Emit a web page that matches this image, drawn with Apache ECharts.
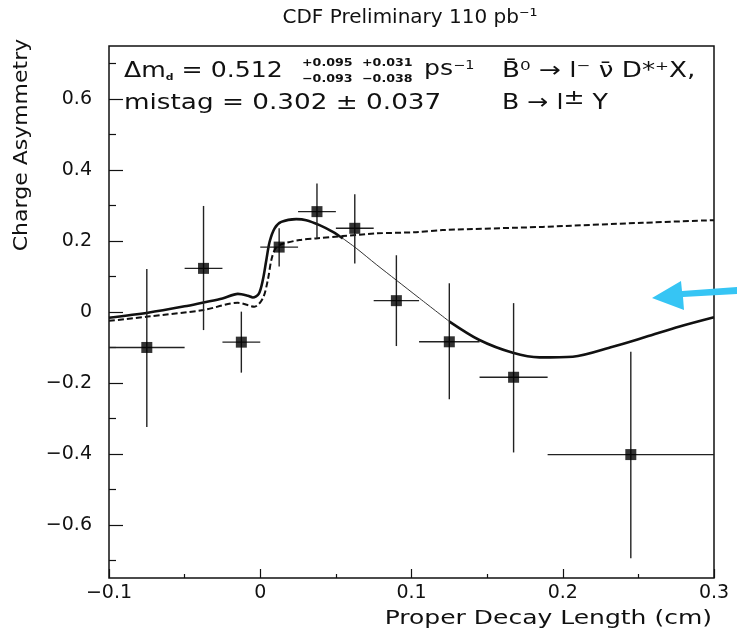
<!DOCTYPE html>
<html lang="en">
<head>
    <meta charset="utf-8"/>
    <title>CDF Preliminary - Charge Asymmetry</title>
    <script src="https://cdn.jsdelivr.net/npm/echarts@6.0.0/dist/echarts.min.js"></script>
    <style>
        html, body { margin: 0; padding: 0; background: #fff; }
        #main { width: 737px; height: 635px; }
    </style>
</head>
<body>
<div id="main"></div>
<script type="text/javascript">
    // data points (bin centre, asymmetry), bin edges and error ends
    var binCenters = [-0.075, -0.0375, -0.0125, 0.0125, 0.0375, 0.0625, 0.09, 0.125, 0.1675, 0.245];
    var asym = [-0.100, 0.123, -0.085, 0.183, 0.283, 0.236, 0.032, -0.084, -0.184, -0.402];
    var binLo = [-0.1, -0.05, -0.025, 0, 0.025, 0.05, 0.075, 0.105, 0.145, 0.19];
    var binHi = [-0.05, -0.025, 0, 0.025, 0.05, 0.075, 0.105, 0.145, 0.19, 0.3];
    var errTop = [0.121, 0.299, 0.001, 0.236, 0.362, 0.332, 0.160, 0.081, 0.025, -0.112];
    var errBot = [-0.324, -0.051, -0.171, 0.128, 0.207, 0.137, -0.096, -0.246, -0.396, -0.694];

    // fit curve (solid), split where the original drawing gets thin
    var fitThickA = [[-0.1, -0.016], [-0.0743, -0.002], [-0.05, 0.016], [-0.0375, 0.027], [-0.025, 0.038],
        [-0.0148, 0.051], [-0.0082, 0.046], [-0.0049, 0.041], [-0.001, 0.051], [0.0017, 0.09],
        [0.004, 0.146], [0.0062, 0.198], [0.0095, 0.236], [0.0139, 0.254], [0.0238, 0.262],
        [0.0304, 0.259], [0.0392, 0.245], [0.048, 0.226], [0.0546, 0.2075]];
    var fitThin = [[0.0546, 0.2075], [0.0634, 0.180], [0.0767, 0.134], [0.0899, 0.090], [0.1053, 0.0386], [0.1251, -0.027]];
    var fitThickB = [[0.1251, -0.027], [0.1449, -0.079], [0.167, -0.115], [0.1846, -0.128], [0.2066, -0.126],
        [0.233, -0.098], [0.2551, -0.070], [0.2773, -0.041], [0.3, -0.015]];

    // dashed curve
    var dashCurve = [[-0.1, -0.025], [-0.0743, -0.013], [-0.0375, 0.0056], [-0.0148, 0.026], [-0.0038, 0.015],
        [0.0017, 0.0386], [0.005, 0.09], [0.0073, 0.146], [0.010, 0.179], [0.0139, 0.191], [0.026, 0.203],
        [0.037, 0.2075], [0.0546, 0.214], [0.0767, 0.2216], [0.103, 0.225], [0.1206, 0.231],
        [0.1867, 0.240], [0.2528, 0.2515], [0.3, 0.259]];

    var yMajor = [-0.6, -0.4, -0.2, 0, 0.2, 0.4, 0.6];
    var yMinor = [-0.7, -0.5, -0.3, -0.1, 0.1, 0.3, 0.5, 0.7];

    function fmt(v) {
        var s = (+v.toFixed(2)).toString();
        return v < 0 ? '\u2212' + s.slice(1) : s;
    }

    var errData = binCenters.map(function (x, i) {
        return [x, asym[i], binLo[i], binHi[i], errBot[i], errTop[i]];
    });
    var pts = binCenters.map(function (x, i) { return [x, asym[i]]; });

    var chart = echarts.init(document.getElementById('main'));
    var txtFont = 'DejaVu Sans';
    var sx = 1.2; // the original lettering is wide

    function small(txt, x, y) {
        return {type: 'text', x: x, y: y, z: 10, scaleX: 1.15,
            style: {text: txt, fontFamily: txtFont, fontSize: 11, fontWeight: 'bold', fill: '#111', verticalAlign: 'middle'}};
    }

    chart.setOption({
        backgroundColor: '#fff',
        animation: false,
        title: {
            text: 'CDF Preliminary 110 pb\u207B\u00B9',
            left: 405, top: 3, textAlign: 'center',
            textStyle: {fontFamily: txtFont, fontSize: 20, fontWeight: 'normal', color: '#111'}
        },
        grid: {left: 109, right: 23, top: 46, bottom: 57, show: true, borderColor: '#111', borderWidth: 1.5},
        xAxis: {
            type: 'value', min: -0.1, max: 0.3, interval: 0.1,
            axisLine: {show: false, onZero: false},
            axisTick: {inside: true, length: 9, lineStyle: {color: '#111', width: 1.2}},
            minorTick: {show: true, splitNumber: 2, length: 4, lineStyle: {color: '#111', width: 1.2}},
            splitLine: {show: false},
            axisLabel: {formatter: fmt, margin: 6, fontFamily: txtFont, fontSize: 19, color: '#111'}
        },
        yAxis: [{
            type: 'value', min: -0.75, max: 0.75,
            axisLine: {show: false, onZero: false},
            axisTick: {inside: true, length: 14, customValues: yMajor, lineStyle: {color: '#111', width: 1.2}},
            splitLine: {show: false},
            axisLabel: {customValues: yMajor, formatter: fmt, margin: 17, fontFamily: txtFont, fontSize: 19, color: '#111'}
        }, {
            type: 'value', min: -0.75, max: 0.75, position: 'left',
            axisLine: {show: false, onZero: false},
            axisTick: {inside: true, length: 7, customValues: yMinor, lineStyle: {color: '#111', width: 1.2}},
            splitLine: {show: false},
            axisLabel: {show: false}
        }],
        series: [
            {
                type: 'line', data: dashCurve, smooth: 0.3, symbol: 'none', z: 3,
                lineStyle: {color: '#111', width: 2, type: [6, 3]}
            },
            {
                type: 'line', data: fitThickA, smooth: 0.3, symbol: 'none', z: 4,
                lineStyle: {color: '#111', width: 2.6}
            },
            {
                type: 'line', data: fitThin, smooth: 0.3, symbol: 'none', z: 4,
                lineStyle: {color: '#333', width: 1}
            },
            {
                type: 'line', data: fitThickB, smooth: 0.3, symbol: 'none', z: 4,
                lineStyle: {color: '#111', width: 2.6}
            },
            {
                type: 'custom', data: errData, z: 5,
                renderItem: function (params, api) {
                    var c = api.coord([api.value(0), api.value(1)]);
                    var l = api.coord([api.value(2), api.value(1)]);
                    var r = api.coord([api.value(3), api.value(1)]);
                    var b = api.coord([api.value(0), api.value(4)]);
                    var t = api.coord([api.value(0), api.value(5)]);
                    var st = {stroke: '#222', lineWidth: 1.4};
                    return {
                        type: 'group', children: [
                            {type: 'line', shape: {x1: l[0], y1: c[1], x2: r[0], y2: c[1]}, style: st},
                            {type: 'line', shape: {x1: c[0], y1: t[1], x2: c[0], y2: b[1]}, style: st}
                        ]
                    };
                }
            },
            {
                type: 'scatter', data: pts, symbol: 'rect', symbolSize: 11, z: 6,
                itemStyle: {color: '#000'}
            }
        ],
        graphic: [
            // axis names
            {type: 'text', x: 22, y: 145, rotation: Math.PI / 2, scaleX: 1.1, z: 10,
                style: {text: 'Charge Asymmetry', fontFamily: txtFont, fontSize: 20, fill: '#111', align: 'center', verticalAlign: 'middle'}},
            {type: 'text', x: 712, y: 619, scaleX: 1.25, z: 10,
                style: {text: 'Proper Decay Length (cm)', fontFamily: txtFont, fontSize: 20, fill: '#111', align: 'right', verticalAlign: 'middle'}},
            // fit parameters
            {type: 'text', x: 124, y: 72, scaleX: sx, z: 10,
                style: {
                    text: '{t|\u0394m}{s|d}{t| = 0.512}',
                    verticalAlign: 'middle',
                    rich: {
                        t: {fontFamily: txtFont, fontSize: 21, fill: '#111'},
                        s: {fontFamily: txtFont, fontSize: 9, fontWeight: 'bold', fill: '#111', verticalAlign: 'bottom'}
                    }
                }},
            small('+0.095', 302, 63),
            small('\u22120.093', 302, 79),
            small('+0.031', 362, 63),
            small('\u22120.038', 362, 79),
            {type: 'text', x: 424, y: 70, scaleX: sx, z: 10,
                style: {
                    text: '{t|ps}{u|\u22121}',
                    verticalAlign: 'middle',
                    rich: {
                        t: {fontFamily: txtFont, fontSize: 21, fill: '#111'},
                        u: {fontFamily: txtFont, fontSize: 12, fill: '#111', verticalAlign: 'top'}
                    }
                }},
            {type: 'text', x: 502, y: 72, scaleX: 1.25, z: 10,
                style: {text: 'B\u0304\u2070 \u2192 l\u207B \u03BD\u0304 D*\u207AX,', fontFamily: txtFont, fontSize: 21, fill: '#111', verticalAlign: 'middle'}},
            {type: 'text', x: 124, y: 104, scaleX: 1.25, z: 10,
                style: {text: 'mistag = 0.302 \u00B1 0.037', fontFamily: txtFont, fontSize: 21, fill: '#111', verticalAlign: 'middle'}},
            {type: 'text', x: 502, y: 104, scaleX: sx, z: 10,
                style: {
                    text: '{t|B \u2192 l}{p|\u00B1}{t| Y}',
                    verticalAlign: 'middle',
                    rich: {
                        t: {fontFamily: txtFont, fontSize: 21, fill: '#111'},
                        p: {fontFamily: txtFont, fontSize: 21, fill: '#111', verticalAlign: 'top', padding: [0, 0, 10, 0]}
                    }
                }},
            // blue arrow annotation
            {type: 'polygon', z: 20,
                shape: {points: [[652, 298], [681, 281], [682, 291], [737, 287], [737, 294], [683, 297], [684, 310]]},
                style: {fill: '#36c5f4'}}
        ]
    });
</script>
</body>
</html>
